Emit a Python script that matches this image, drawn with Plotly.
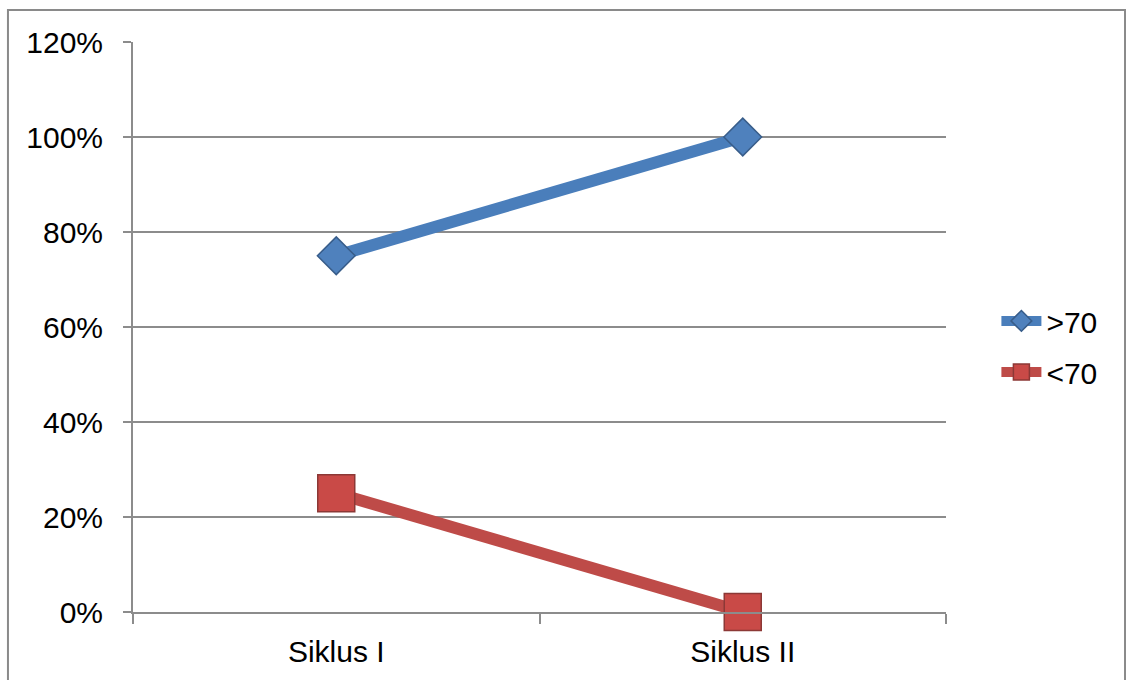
import plotly.graph_objects as go

# Data
categories = ["Siklus I", "Siklus II"]
above_70 = [0.75, 1.00]
below_70 = [0.25, 0.00]
series_names = [">70", "<70"]

FONT = "Liberation Sans, Arial, sans-serif"
GRID = "#8c8c8c"

fig = go.Figure()

fig.add_trace(go.Scatter(
    x=categories, y=above_70, name=series_names[0], legendgroup="a",
    mode="lines+markers", cliponaxis=False,
    line=dict(color="#4A7EBB", width=12),
    marker=dict(symbol="diamond", size=29, color="#4F81BD",
                line=dict(color="#385D8A", width=1.5)),
))

fig.add_trace(go.Scatter(
    x=categories, y=below_70, name=series_names[1], legendgroup="b",
    mode="lines+markers", cliponaxis=False,
    line=dict(color="#BE4B48", width=12),
    marker=dict(symbol="square", size=37, color="#C94A47",
                line=dict(color="#8C3836", width=1.5)),
))

# Outer chart frame
fig.add_shape(type="rect", xref="paper", yref="paper",
              x0=-0.1538, x1=1.2202, y0=-0.2, y1=1.0561,
              line=dict(color="#8a8a8a", width=2), layer="below")

fig.update_layout(
    width=1126, height=680,
    margin=dict(l=133, r=180, t=42, b=68),
    paper_bgcolor="white", plot_bgcolor="white",
    font=dict(family=FONT, size=30, color="black"),
    showlegend=True,
    legend=dict(x=1.062, y=0.466, xanchor="left", yanchor="middle",
                font=dict(size=30), itemwidth=40, tracegroupgap=9,
                bgcolor="rgba(0,0,0,0)"),
    xaxis=dict(
        type="category", range=[-0.5, 1.5],
        showgrid=False, showline=True, linecolor=GRID, linewidth=2,
        ticks="outside", tickson="boundaries", ticklen=10, tickwidth=2,
        tickcolor=GRID, tickfont=dict(size=30), ticklabelstandoff=12,
    ),
    yaxis=dict(
        range=[0, 1.2], dtick=0.2, tickformat=".0%",
        showgrid=True, gridcolor=GRID, gridwidth=1.5,
        showline=True, linecolor=GRID, linewidth=2,
        ticks="outside", ticklen=8, tickwidth=2, tickcolor=GRID,
        ticklabelstandoff=14, zeroline=False, tickfont=dict(size=30),
    ),
)

fig.write_html("out.html")
